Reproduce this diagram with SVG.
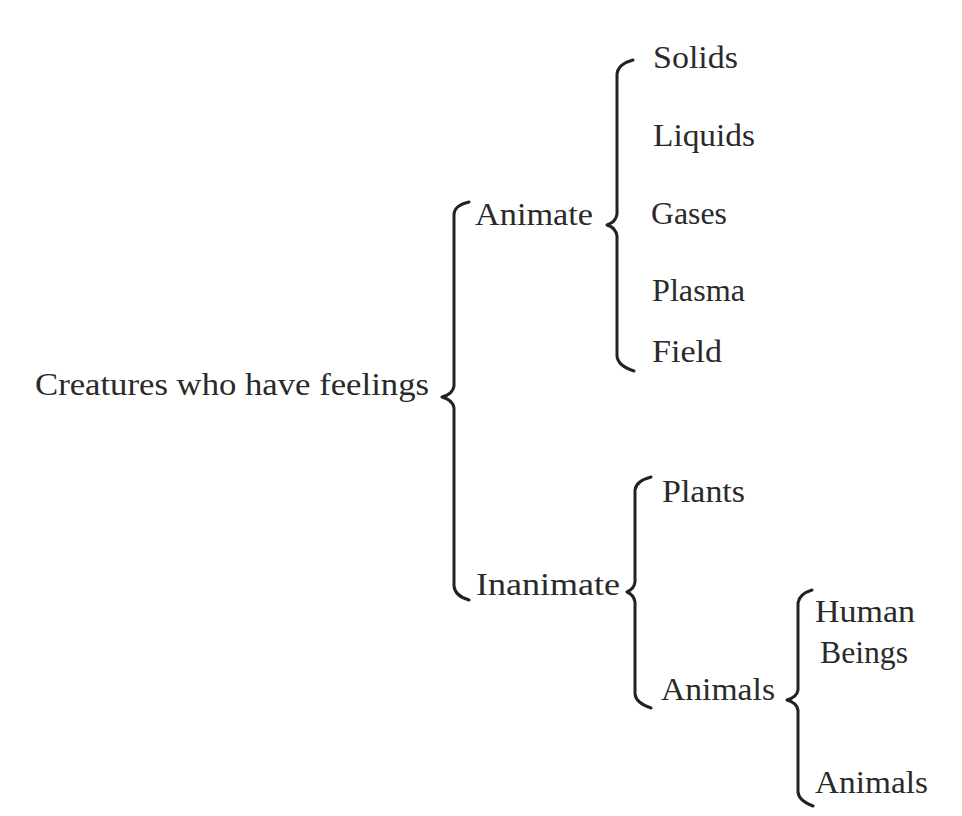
<svg xmlns="http://www.w3.org/2000/svg" width="962" height="816" viewBox="0 0 962 816">
<style>
text{font-family:"Liberation Serif","Times New Roman",serif;font-size:31px;fill:#2a2a2a}
.b{fill:none;stroke:#222;stroke-width:3;stroke-linecap:round;stroke-linejoin:round}
</style>
<rect width="962" height="816" fill="#fff"/>
<g id="connectors">
<path class="b" d="M469,202 Q455,205 454,214 L454,386 Q453,394 442,397 Q453,400 454,408 L454,586 Q455,596 469,600"/>
<path class="b" d="M633,60 Q618,64 617,74 L617,214 Q616,222 607,225 Q616,228 617,236 L617,356 Q618,366 634,371"/>
<path class="b" d="M651,477 Q636,481 635,490 L635,582 Q634,589 627,592 Q634,595 635,602 L635,694 Q636,703 651,708"/>
<path class="b" d="M812,590 Q799,594 798,603 L798,690 Q797,697 787,700 Q797,703 798,710 L798,792 Q799,801 813,806"/>
</g>
<g id="n-root"><text x="35" y="395" textLength="394" lengthAdjust="spacingAndGlyphs">Creatures who have feelings</text></g>
<g id="n-animate"><text x="475" y="225" textLength="118" lengthAdjust="spacingAndGlyphs">Animate</text></g>
<g id="n-inanimate"><text x="476" y="595" textLength="144" lengthAdjust="spacingAndGlyphs">Inanimate</text></g>
<g id="n-solids"><text x="653" y="68" textLength="85" lengthAdjust="spacingAndGlyphs">Solids</text></g>
<g id="n-liquids"><text x="653" y="146" textLength="102" lengthAdjust="spacingAndGlyphs">Liquids</text></g>
<g id="n-gases"><text x="651" y="224" textLength="76" lengthAdjust="spacingAndGlyphs">Gases</text></g>
<g id="n-plasma"><text x="652" y="301" textLength="93" lengthAdjust="spacingAndGlyphs">Plasma</text></g>
<g id="n-field"><text x="652" y="362" textLength="70" lengthAdjust="spacingAndGlyphs">Field</text></g>
<g id="n-plants"><text x="662" y="502" textLength="83" lengthAdjust="spacingAndGlyphs">Plants</text></g>
<g id="n-animals"><text x="661" y="700" textLength="114" lengthAdjust="spacingAndGlyphs">Animals</text></g>
<g id="n-human"><text x="815" y="622" textLength="100" lengthAdjust="spacingAndGlyphs">Human</text><text x="820" y="663" textLength="88" lengthAdjust="spacingAndGlyphs">Beings</text></g>
<g id="n-animals2"><text x="815" y="793" textLength="113" lengthAdjust="spacingAndGlyphs">Animals</text></g>
</svg>
